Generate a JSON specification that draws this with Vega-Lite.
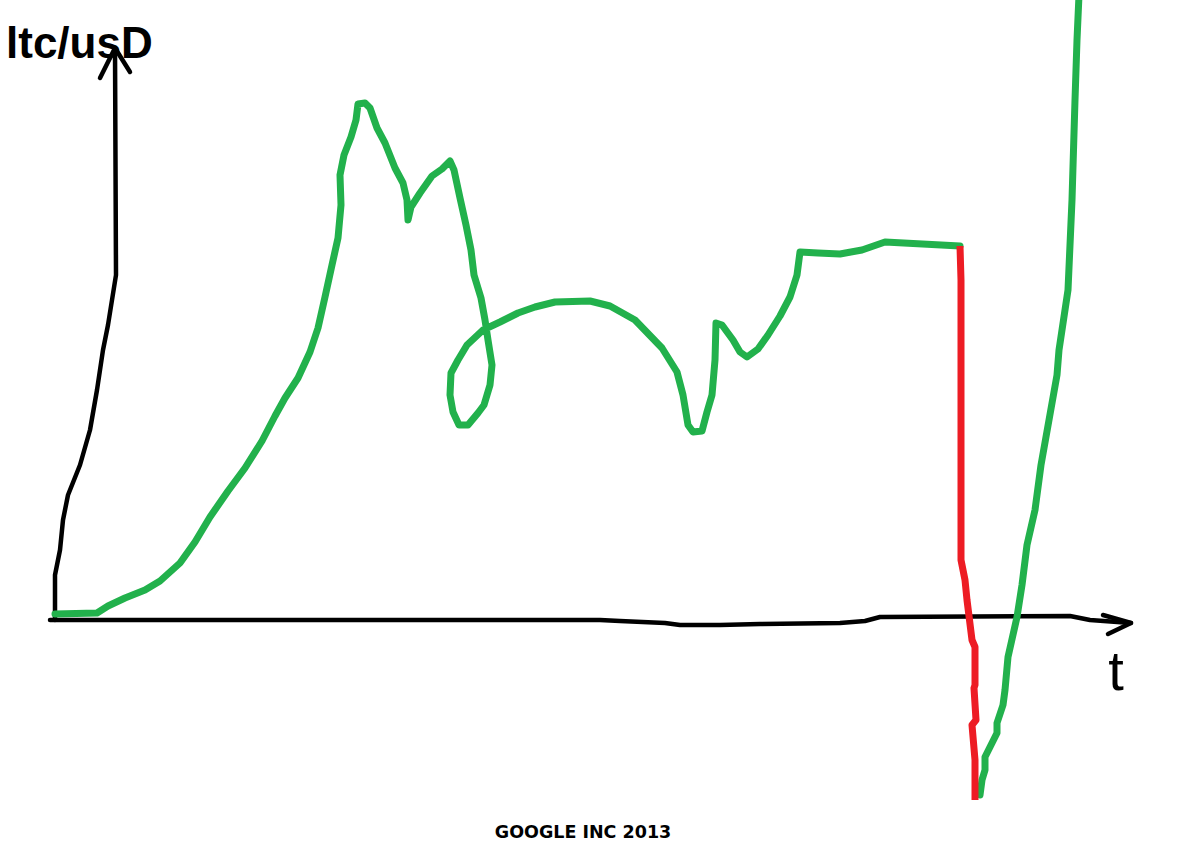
{"$schema":"https://vega.github.io/schema/vega-lite/v6.json","width":1197,"height":860,"padding":0,"autosize":{"type":"none"},"background":"white","view":{"stroke":null},
"datasets":{"strokes":[
{"s":"y axis","c":"ink","i":1,"t":55,"p":0},{"s":"y axis","c":"ink","i":2,"t":55,"p":45},{"s":"y axis","c":"ink","i":3,"t":60,"p":70},{"s":"y axis","c":"ink","i":4,"t":63,"p":100},{"s":"y axis","c":"ink","i":5,"t":68,"p":125},{"s":"y axis","c":"ink","i":6,"t":80,"p":155},{"s":"y axis","c":"ink","i":7,"t":90,"p":190},{"s":"y axis","c":"ink","i":8,"t":97,"p":230},{"s":"y axis","c":"ink","i":9,"t":103,"p":270},{"s":"y axis","c":"ink","i":10,"t":108,"p":295},{"s":"y axis","c":"ink","i":11,"t":112,"p":320},{"s":"y axis","c":"ink","i":12,"t":116,"p":345},{"s":"y axis","c":"ink","i":13,"t":115,"p":572},
{"s":"y head","c":"ink","i":1,"t":100,"p":542},{"s":"y head","c":"ink","i":2,"t":115,"p":572},{"s":"y head","c":"ink","i":3,"t":130,"p":548},
{"s":"x axis","c":"ink","i":1,"t":50,"p":0},{"s":"x axis","c":"ink","i":2,"t":600,"p":0},{"s":"x axis","c":"ink","i":3,"t":620,"p":-1},{"s":"x axis","c":"ink","i":4,"t":665,"p":-3},{"s":"x axis","c":"ink","i":5,"t":680,"p":-5},{"s":"x axis","c":"ink","i":6,"t":720,"p":-5},{"s":"x axis","c":"ink","i":7,"t":760,"p":-4},{"s":"x axis","c":"ink","i":8,"t":840,"p":-3},{"s":"x axis","c":"ink","i":9,"t":865,"p":-1},{"s":"x axis","c":"ink","i":10,"t":880,"p":3},{"s":"x axis","c":"ink","i":11,"t":1070,"p":4},{"s":"x axis","c":"ink","i":12,"t":1090,"p":0},{"s":"x axis","c":"ink","i":13,"t":1131,"p":-3},
{"s":"x head","c":"ink","i":1,"t":1103,"p":5},{"s":"x head","c":"ink","i":2,"t":1131,"p":-3},{"s":"x head","c":"ink","i":3,"t":1108,"p":-14},
{"s":"rise","c":"green","i":1,"t":55,"p":6},{"s":"rise","c":"green","i":2,"t":97,"p":7},{"s":"rise","c":"green","i":3,"t":108,"p":14},{"s":"rise","c":"green","i":4,"t":125,"p":22},{"s":"rise","c":"green","i":5,"t":145,"p":30},{"s":"rise","c":"green","i":6,"t":160,"p":39},{"s":"rise","c":"green","i":7,"t":180,"p":57},{"s":"rise","c":"green","i":8,"t":195,"p":78},{"s":"rise","c":"green","i":9,"t":210,"p":103},{"s":"rise","c":"green","i":10,"t":228,"p":129},{"s":"rise","c":"green","i":11,"t":245,"p":152},{"s":"rise","c":"green","i":12,"t":262,"p":179},{"s":"rise","c":"green","i":13,"t":275,"p":204},{"s":"rise","c":"green","i":14,"t":285,"p":222},{"s":"rise","c":"green","i":15,"t":298,"p":242},{"s":"rise","c":"green","i":16,"t":310,"p":268},{"s":"rise","c":"green","i":17,"t":318,"p":292},{"s":"rise","c":"green","i":18,"t":325,"p":323},{"s":"rise","c":"green","i":19,"t":332,"p":355},{"s":"rise","c":"green","i":20,"t":338,"p":382},{"s":"rise","c":"green","i":21,"t":341,"p":415},{"s":"rise","c":"green","i":22,"t":340,"p":445},{"s":"rise","c":"green","i":23,"t":344,"p":465},{"s":"rise","c":"green","i":24,"t":351,"p":483},{"s":"rise","c":"green","i":25,"t":356,"p":500},{"s":"rise","c":"green","i":26,"t":358,"p":516},{"s":"rise","c":"green","i":27,"t":365,"p":517},{"s":"rise","c":"green","i":28,"t":370,"p":512},{"s":"rise","c":"green","i":29,"t":377,"p":492},{"s":"rise","c":"green","i":30,"t":385,"p":477},{"s":"rise","c":"green","i":31,"t":395,"p":452},{"s":"rise","c":"green","i":32,"t":403,"p":437},{"s":"rise","c":"green","i":33,"t":407,"p":420},{"s":"rise","c":"green","i":34,"t":408,"p":400},{"s":"rise","c":"green","i":35,"t":411,"p":413},{"s":"rise","c":"green","i":36,"t":420,"p":427},{"s":"rise","c":"green","i":37,"t":432,"p":444},{"s":"rise","c":"green","i":38,"t":442,"p":451},{"s":"rise","c":"green","i":39,"t":450,"p":459},{"s":"rise","c":"green","i":40,"t":454,"p":450},{"s":"rise","c":"green","i":41,"t":460,"p":422},{"s":"rise","c":"green","i":42,"t":466,"p":395},{"s":"rise","c":"green","i":43,"t":471,"p":370},{"s":"rise","c":"green","i":44,"t":474,"p":345},{"s":"rise","c":"green","i":45,"t":481,"p":322},{"s":"rise","c":"green","i":46,"t":485,"p":300},{"s":"rise","c":"green","i":47,"t":488,"p":280},{"s":"rise","c":"green","i":48,"t":492,"p":255},{"s":"rise","c":"green","i":49,"t":490,"p":235},{"s":"rise","c":"green","i":50,"t":484,"p":215},{"s":"rise","c":"green","i":51,"t":478,"p":207},{"s":"rise","c":"green","i":52,"t":468,"p":195},{"s":"rise","c":"green","i":53,"t":459,"p":195},{"s":"rise","c":"green","i":54,"t":453,"p":208},{"s":"rise","c":"green","i":55,"t":450,"p":225},{"s":"rise","c":"green","i":56,"t":451,"p":247},{"s":"rise","c":"green","i":57,"t":458,"p":260},{"s":"rise","c":"green","i":58,"t":467,"p":275},{"s":"rise","c":"green","i":59,"t":483,"p":290},{"s":"rise","c":"green","i":60,"t":500,"p":298},{"s":"rise","c":"green","i":61,"t":518,"p":307},{"s":"rise","c":"green","i":62,"t":535,"p":313},{"s":"rise","c":"green","i":63,"t":555,"p":318},{"s":"rise","c":"green","i":64,"t":590,"p":319},{"s":"rise","c":"green","i":65,"t":610,"p":314},{"s":"rise","c":"green","i":66,"t":635,"p":300},{"s":"rise","c":"green","i":67,"t":662,"p":272},{"s":"rise","c":"green","i":68,"t":677,"p":248},{"s":"rise","c":"green","i":69,"t":683,"p":225},{"s":"rise","c":"green","i":70,"t":688,"p":195},{"s":"rise","c":"green","i":71,"t":693,"p":188},{"s":"rise","c":"green","i":72,"t":702,"p":189},{"s":"rise","c":"green","i":73,"t":707,"p":208},{"s":"rise","c":"green","i":74,"t":712,"p":225},{"s":"rise","c":"green","i":75,"t":715,"p":260},{"s":"rise","c":"green","i":76,"t":716,"p":297},{"s":"rise","c":"green","i":77,"t":722,"p":295},{"s":"rise","c":"green","i":78,"t":733,"p":280},{"s":"rise","c":"green","i":79,"t":740,"p":268},{"s":"rise","c":"green","i":80,"t":747,"p":263},{"s":"rise","c":"green","i":81,"t":758,"p":271},{"s":"rise","c":"green","i":82,"t":768,"p":285},{"s":"rise","c":"green","i":83,"t":780,"p":304},{"s":"rise","c":"green","i":84,"t":790,"p":323},{"s":"rise","c":"green","i":85,"t":797,"p":345},{"s":"rise","c":"green","i":86,"t":800,"p":368},{"s":"rise","c":"green","i":87,"t":818,"p":367},{"s":"rise","c":"green","i":88,"t":840,"p":366},{"s":"rise","c":"green","i":89,"t":862,"p":370},{"s":"rise","c":"green","i":90,"t":885,"p":378},{"s":"rise","c":"green","i":91,"t":960,"p":374},
{"s":"crash","c":"red","i":1,"t":960,"p":374},{"s":"crash","c":"red","i":2,"t":961,"p":340},{"s":"crash","c":"red","i":3,"t":961,"p":60},{"s":"crash","c":"red","i":4,"t":965,"p":40},{"s":"crash","c":"red","i":5,"t":967,"p":20},{"s":"crash","c":"red","i":6,"t":972,"p":-20},{"s":"crash","c":"red","i":7,"t":975,"p":-27},{"s":"crash","c":"red","i":8,"t":975,"p":-65},{"s":"crash","c":"red","i":9,"t":974,"p":-68},{"s":"crash","c":"red","i":10,"t":976,"p":-100},{"s":"crash","c":"red","i":11,"t":972,"p":-105},{"s":"crash","c":"red","i":12,"t":975,"p":-140},{"s":"crash","c":"red","i":13,"t":975,"p":-180},
{"s":"rebound","c":"green","i":1,"t":980,"p":-175},{"s":"rebound","c":"green","i":2,"t":982,"p":-160},{"s":"rebound","c":"green","i":3,"t":985,"p":-150},{"s":"rebound","c":"green","i":4,"t":985,"p":-137},{"s":"rebound","c":"green","i":5,"t":990,"p":-127},{"s":"rebound","c":"green","i":6,"t":997,"p":-113},{"s":"rebound","c":"green","i":7,"t":997,"p":-103},{"s":"rebound","c":"green","i":8,"t":1003,"p":-85},{"s":"rebound","c":"green","i":9,"t":1005,"p":-70},{"s":"rebound","c":"green","i":10,"t":1008,"p":-37},{"s":"rebound","c":"green","i":11,"t":1017,"p":3},{"s":"rebound","c":"green","i":12,"t":1022,"p":35},{"s":"rebound","c":"green","i":13,"t":1027,"p":75},{"s":"rebound","c":"green","i":14,"t":1035,"p":110},{"s":"rebound","c":"green","i":15,"t":1041,"p":155},{"s":"rebound","c":"green","i":16,"t":1057,"p":245},{"s":"rebound","c":"green","i":17,"t":1059,"p":270},{"s":"rebound","c":"green","i":18,"t":1068,"p":330},{"s":"rebound","c":"green","i":19,"t":1072,"p":420},{"s":"rebound","c":"green","i":20,"t":1075,"p":520},{"s":"rebound","c":"green","i":21,"t":1077,"p":580},{"s":"rebound","c":"green","i":22,"t":1079,"p":625}
]},
"data":{"name":"strokes"},
"encoding":{"x":{"field":"t","type":"quantitative","scale":{"domain":[0,1197],"nice":false,"zero":false},"axis":null},"y":{"field":"p","type":"quantitative","scale":{"domain":[-240,620],"nice":false,"zero":false},"axis":null}},
"layer":[
{"transform":[{"filter":"datum.c==='ink'"}],"mark":{"type":"line","strokeWidth":4.5,"strokeCap":"round","strokeJoin":"round","clip":true},
"encoding":{"detail":{"field":"s"},"order":{"field":"i","type":"quantitative"},"color":{"field":"c","type":"nominal","scale":{"domain":["ink","green","red"],"range":["#000000","#22b14c","#ed1c24"]},"legend":null}}},
{"transform":[{"filter":"datum.c==='green'"}],"mark":{"type":"line","strokeWidth":7,"strokeCap":"round","strokeJoin":"round","clip":true},
"encoding":{"detail":{"field":"s"},"order":{"field":"i","type":"quantitative"},"color":{"field":"c","type":"nominal","legend":null}}},
{"transform":[{"filter":"datum.c==='red'"}],"mark":{"type":"line","strokeWidth":7,"strokeCap":"butt","strokeJoin":"round","clip":true},
"encoding":{"detail":{"field":"s"},"order":{"field":"i","type":"quantitative"},"color":{"field":"c","type":"nominal","legend":null}}},
{"data":{"values":[{"label":"ltc/usD","t":6,"p":562}]},"mark":{"type":"text","align":"left","baseline":"alphabetic","font":"Liberation Sans","fontWeight":"bold","fontSize":44,"color":"#000000"},
"encoding":{"text":{"field":"label"}}},
{"data":{"values":[{"label":"t","t":1116,"p":-70}]},"mark":{"type":"text","align":"center","baseline":"alphabetic","font":"Liberation Sans","fontSize":56,"color":"#000000"},
"encoding":{"text":{"field":"label"}}},
{"data":{"values":[{"label":"GOOGLE INC 2013","t":583,"p":-213}]},"mark":{"type":"text","align":"center","baseline":"middle","font":"DejaVu Sans","fontWeight":"bold","fontSize":17.5,"color":"#000000"},
"encoding":{"text":{"field":"label"}}}
]}
